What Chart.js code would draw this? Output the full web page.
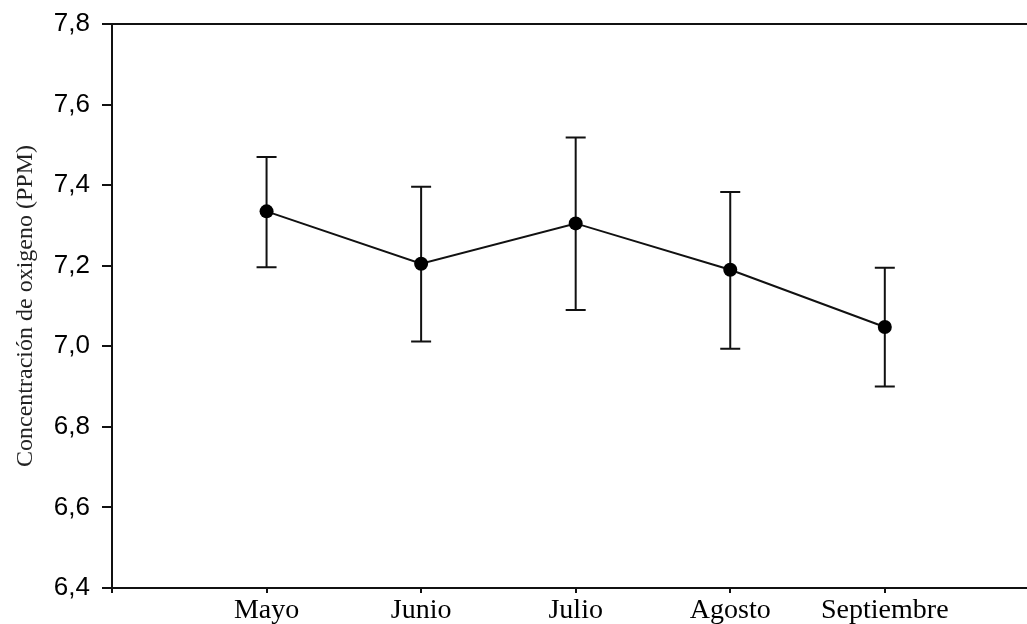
<!DOCTYPE html>
<html>
<head>
<meta charset="utf-8">
<script src="https://cdn.jsdelivr.net/npm/chart.js@4/dist/chart.umd.min.js"></script>
<style>
  html, body { margin: 0; padding: 0; background: #fff; overflow: hidden; }
  #wrap { width: 1027px; height: 624px; overflow: hidden; }
</style>
</head>
<body>
<div id="wrap"><canvas id="myChart" width="1034" height="624"></canvas></div>
<script>
// datos
const meses = ["Mayo", "Junio", "Julio", "Agosto", "Septiembre"];
const oxigeno = [7.335, 7.205, 7.305, 7.19, 7.048];
const errSup = [7.47, 7.396, 7.518, 7.383, 7.195];
const errInf = [7.196, 7.012, 7.09, 6.994, 6.9];
const yTicks = [6.4, 6.6, 6.8, 7.0, 7.2, 7.4, 7.6, 7.8];

// barras de error (dibujadas con las escalas del grafico)
const errorBars = {
  id: "errorBars",
  beforeDatasetsDraw(chart) {
    const ctx = chart.ctx;
    const xs = chart.scales.x;
    const ys = chart.scales.y;
    ctx.save();
    ctx.strokeStyle = "#111";
    ctx.lineWidth = 2;
    meses.forEach((m, i) => {
      const px = xs.getPixelForValue(i + 1);
      const top = ys.getPixelForValue(errSup[i]);
      const bot = ys.getPixelForValue(errInf[i]);
      ctx.beginPath();
      ctx.moveTo(px, top); ctx.lineTo(px, bot);
      ctx.moveTo(px - 10, top); ctx.lineTo(px + 10, top);
      ctx.moveTo(px - 10, bot); ctx.lineTo(px + 10, bot);
      ctx.stroke();
    });
    ctx.restore();
  }
};

// linea superior del marco
const topLine = {
  id: "topLine",
  afterDraw(chart) {
    const { ctx, chartArea } = chart;
    ctx.save();
    ctx.strokeStyle = "#111";
    ctx.lineWidth = 2;
    ctx.beginPath();
    ctx.moveTo(chartArea.left, chartArea.top);
    ctx.lineTo(chart.width, chartArea.top);
    ctx.stroke();
    ctx.restore();
  }
};

const ctx = document.getElementById("myChart").getContext("2d");
new Chart(ctx, {
  type: "line",
  data: {
    datasets: [
      {
        data: oxigeno.map((v, i) => ({ x: i + 1, y: v })),
        borderColor: "#111",
        borderWidth: 2,
        pointRadius: 7,
        pointBackgroundColor: "#000",
        pointBorderColor: "#000",
        pointBorderWidth: 0,
        tension: 0,
        clip: false,
      },
    ],
  },
  options: {
    responsive: false,
    animation: false,
    layout: { padding: { left: 8, right: 0, top: 24, bottom: 0 } },
    plugins: { legend: { display: false }, tooltip: { enabled: false } },
    scales: {
      x: {
        type: "linear",
        min: 0,
        max: 5.92,
        afterFit(scale) { scale.height = 36; },
        grid: { drawOnChartArea: false, drawTicks: true, tickLength: 5, color: "#111", lineWidth: 2 },
        border: { display: true, color: "#111", width: 2 },
        ticks: {
          stepSize: 1,
          includeBounds: false,
          padding: 1,
          color: "#000",
          font: { family: "Liberation Serif", size: 28 },
          callback: (v) => meses[v - 1] || "",
        },
      },
      y: {
        min: 6.4,
        max: 7.8,
        afterFit(scale) {
          scale.width = 104;
          scale.paddingTop = 0;
          scale.paddingBottom = 0;
        },
        afterBuildTicks(scale) { scale.ticks = yTicks.map((v) => ({ value: v })); },
        grid: { drawOnChartArea: false, drawTicks: true, tickLength: 10, color: "#111", lineWidth: 2 },
        border: { display: true, color: "#111", width: 2 },
        title: {
          display: true,
          text: "Concentración de oxigeno (PPM)",
          color: "#222",
          font: { family: "Liberation Serif", size: 24 },
          padding: { top: 3, bottom: 0 },
        },
        ticks: {
          padding: 12,
          color: "#000",
          font: { family: "Liberation Sans", size: 26 },
          callback: (v) => v.toFixed(1).replace(".", ","),
        },
      },
    },
  },
  plugins: [errorBars, topLine],
});
</script>
</body>
</html>
